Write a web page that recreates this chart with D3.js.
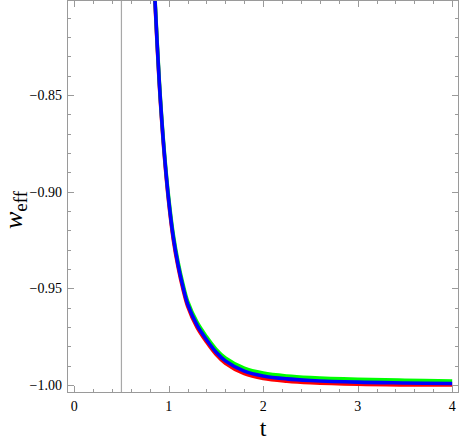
<!DOCTYPE html>
<html><head><meta charset="utf-8">
<script src="https://cdn.jsdelivr.net/npm/d3@7"></script>
<style>body{margin:0;background:#fff}svg{display:block}</style>
</head><body>
<svg id="chart" width="460" height="443"></svg>
<script>
const tValues = [0.85,0.9,0.95,1.0,1.05,1.1,1.15,1.2,1.3,1.4,1.5,1.6,1.8,2.0,2.25,2.5,3.0,3.5,4.0];
const redW   = [-0.797,-0.844,-0.879,-0.9055,-0.9252,-0.9392,-0.9502,-0.9592,-0.9702,-0.9777,-0.9841,-0.9887,-0.9941,-0.9966,-0.9980,-0.9988,-0.9996,-0.9999,-1.0000];
const greenW = [-0.795,-0.842,-0.877,-0.9030,-0.9226,-0.9366,-0.9476,-0.9566,-0.9675,-0.9750,-0.9814,-0.9860,-0.9913,-0.9938,-0.9953,-0.9961,-0.9970,-0.9975,-0.9979];
const blueW  = [-0.796,-0.843,-0.878,-0.9043,-0.9240,-0.9380,-0.9490,-0.9580,-0.9690,-0.9765,-0.9829,-0.9875,-0.9928,-0.9953,-0.9968,-0.9976,-0.9985,-0.9989,-0.9992];
const xMajor = [0,1,2,3,4];
const yMajor = [-0.85,-0.90,-0.95,-1.00];
const yLabels = ["−0.85","−0.90","−0.95","−1.00"];
const vLineT = 0.5;
const series = [
  {name:"red", values:redW, color:"#ff0000"},
  {name:"green", values:greenW, color:"#00ff00"},
  {name:"blue", values:blueW, color:"#0000ff"}
];

const svg = d3.select("#chart");
const L=67, R=459, T=0, B=393;
const x = d3.scaleLinear().domain([-0.076,4.072]).range([L,R]);
const y = d3.scaleLinear().domain([-1.0041,-0.8009]).range([B,T]);
const frameCol = "#9a9a9a";

svg.append("clipPath").attr("id","clip").append("rect")
  .attr("x",L).attr("y",T).attr("width",R-L).attr("height",B-T);

svg.append("line").attr("x1",x(vLineT)).attr("x2",x(vLineT)).attr("y1",T).attr("y2",B)
  .attr("stroke","#a8a8a8").attr("stroke-width",1.2);

const line = d3.line().x((d,i)=>x(tValues[i])).y(d=>y(d)).curve(d3.curveCatmullRom.alpha(0.5));
const g = svg.append("g").attr("clip-path","url(#clip)");
series.forEach(s=>{
  g.append("path").attr("d",line(s.values)).attr("fill","none")
   .attr("stroke",s.color).attr("stroke-width",3.6).attr("stroke-linejoin","round");
});

svg.append("rect").attr("x",L+0.5).attr("y",T+0.5).attr("width",R-L-1).attr("height",B-T-1)
  .attr("fill","none").attr("stroke",frameCol).attr("stroke-width",1);

const xMinor = d3.range(0,4.01,0.2).filter(v=>Math.abs(v-Math.round(v))>1e-6);
const yMinor = d3.range(-1.00,-0.80,0.01).filter(v=>!yMajor.some(m=>Math.abs(m-v)<1e-6));
const tk = svg.append("g").attr("stroke",frameCol).attr("stroke-width",1);
function xt(v,len){
  const px = Math.round(x(v))+0.5;
  tk.append("line").attr("x1",px).attr("x2",px).attr("y1",B).attr("y2",B-len);
  tk.append("line").attr("x1",px).attr("x2",px).attr("y1",T).attr("y2",T+len);
}
function yt(v,len){
  const py = Math.round(y(v))+0.5;
  tk.append("line").attr("x1",L).attr("x2",L+len).attr("y1",py).attr("y2",py);
  tk.append("line").attr("x1",R).attr("x2",R-len).attr("y1",py).attr("y2",py);
}
xMajor.forEach(v=>xt(v,7)); xMinor.forEach(v=>xt(v,4));
yMajor.forEach(v=>yt(v,7)); yMinor.forEach(v=>yt(v,4));

const font = "'Liberation Serif','Times New Roman',Times,Tinos,'Noto Serif','DejaVu Serif','Nimbus Roman',FreeSerif,serif";
svg.append("g").selectAll("text").data(xMajor).join("text")
  .attr("x",d=>x(d)).attr("y",411).attr("text-anchor","middle")
  .attr("font-family",font).attr("font-size",14).text(d=>d);
svg.append("g").selectAll("text").data(yMajor).join("text")
  .attr("x",62).attr("y",d=>y(d)+5).attr("text-anchor","end")
  .attr("font-family",font).attr("font-size",14).text((d,i)=>yLabels[i]);

svg.append("text").attr("x",x(2)).attr("y",436).attr("text-anchor","middle")
  .attr("font-family",font).attr("font-size",24).text("t");

const yl = svg.append("text").attr("transform","translate(22,210) rotate(-90)")
  .attr("text-anchor","middle").attr("font-family",font);
yl.append("tspan").attr("font-style","italic").attr("font-size",26).text("w");
yl.append("tspan").attr("font-size",19).attr("dy",5).text("eff");
</script>
</body></html>
